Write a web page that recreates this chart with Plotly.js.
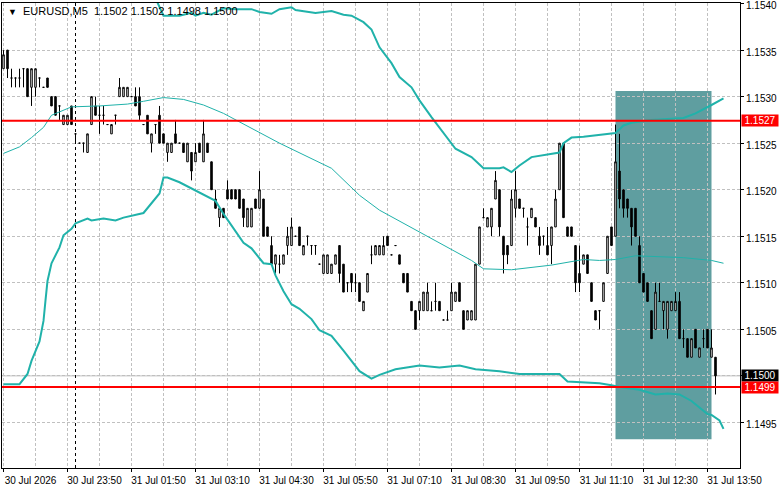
<!DOCTYPE html>
<html><head><meta charset="utf-8">
<script src="https://cdn.plot.ly/plotly-3.0.1.min.js"></script>
<style>html,body{margin:0;padding:0;background:#fff;} #chart{width:781px;height:489px;}</style>
</head><body><div id="chart"></div>
<script>
// ---- data (EURUSD M5 bars) ----
const open = [1.1533,1.1535,1.1532,1.1532,1.1532,1.1533,1.1533,1.1531,1.1531,1.1532,
1.1531,1.1532,1.1530,1.1530,1.1529,1.1527,1.1527,1.1529,1.1526,1.1525,
1.1525,1.1524,1.1527,1.1529,1.1528,1.1528,1.1527,1.1526,1.1528,1.1530,
1.1530,1.1530,1.1530,1.1530,1.1530,1.1527,1.1528,1.1525,1.1527,1.1528,
1.1526,1.1524,1.1524,1.1526,1.1525,1.1525,1.1523,1.1524,1.1523,1.1525,
1.1523,1.1525,1.1523,1.1519,1.1517,1.1518,1.1520,1.1520,1.1520,1.1520,
1.1519,1.1516,1.1516,1.1519,1.1518,1.1519,1.1516,1.1514,1.1512,1.1512,
1.1512,1.1514,1.1514,1.1515,1.1516,1.1513,1.1515,1.1514,1.1514,1.1512,
1.1511,1.1511,1.1511,1.1512,1.1514,1.1512,1.1510,1.1511,1.1510,1.1510,
1.1507,1.1509,1.1513,1.1513,1.1513,1.1513,1.1515,1.1513,1.1514,1.1513,
1.1511,1.1511,1.1508,1.1507,1.1507,1.1507,1.1507,1.1507,1.1508,1.1508,
1.1506,1.1506,1.1507,1.1508,1.1510,1.1507,1.1506,1.1506,1.1506,1.1512,
1.1517,1.1516,1.1516,1.1519,1.1520,1.1515,1.1514,1.1514,1.1518,1.1519,
1.1518,1.1516,1.1517,1.1517,1.1515,1.1515,1.1514,1.1514,1.1516,1.1520,
1.1525,1.1516,1.1516,1.1514,1.1511,1.1512,1.1513,1.1510,1.1507,1.1507,
1.1508,1.1511,1.1516,1.1515,1.1522,1.1520,1.1519,1.1518,1.1518,1.1514,
1.1511,1.1510,1.1507,1.1505,1.1508,1.1507,1.1505,1.1507,1.1507,1.1508,
1.1504,1.1504,1.1502,1.1505,1.1502,1.1504,1.1505,1.1502,1.1502];

const high = [1.1535,1.1535,1.1533,1.1532,1.1533,1.1533,1.1533,1.1533,1.1533,1.1532,
1.1531,1.1532,1.1530,1.1530,1.1529,1.1528,1.1528,1.1529,1.1526,1.1525,
1.1525,1.1526,1.1530,1.1530,1.1529,1.1529,1.1527,1.1527,1.1528,1.1532,
1.1531,1.1531,1.1530,1.1531,1.1531,1.1527,1.1528,1.1526,1.1527,1.1529,
1.1526,1.1525,1.1525,1.15275,1.1525,1.1525,1.1525,1.1524,1.1525,1.1525,
1.15275,1.1525,1.1523,1.1520,1.1518,1.1518,1.1521,1.1520,1.1520,1.1520,
1.1519,1.1518,1.1518,1.1519,1.1522,1.1519,1.1516,1.1515,1.1513,1.1513,
1.1513,1.1516,1.1517,1.1515,1.1516,1.1514,1.1515,1.1514,1.1514,1.1512,
1.1513,1.1513,1.1512,1.1513,1.1514,1.1512,1.1510,1.1511,1.1511,1.1510,
1.1508,1.1511,1.1514,1.1514,1.1514,1.1515,1.1515,1.1513,1.1514,1.1513,
1.1511,1.1511,1.1508,1.1507,1.1508,1.1509,1.1510,1.1508,1.1510,1.1508,
1.1506,1.1507,1.1510,1.1509,1.1510,1.1507,1.1507,1.1507,1.1512,1.1516,
1.1518,1.1517,1.1518,1.1522,1.1520,1.1515,1.1514,1.1520,1.1522,1.1519,
1.1518,1.1517,1.1518,1.1517,1.1516,1.1515,1.1516,1.1516,1.1520,1.1525,
1.1525,1.1516,1.1516,1.1514,1.1514,1.1513,1.1513,1.1510,1.1507,1.1507,
1.1510,1.1515,1.1516,1.1527,1.1526,1.1520,1.1519,1.1518,1.1518,1.1515,
1.1511,1.1510,1.1507,1.1510,1.1510,1.1508,1.1508,1.1508,1.1509,1.1509,
1.1505,1.1504,1.1504,1.1505,1.1503,1.1505,1.1505,1.1505,1.1502];

const low = [1.1533,1.1532,1.1531,1.1531,1.1531,1.1531,1.1530,1.1529,1.1530,1.1531,
1.1531,1.1531,1.1529,1.1528,1.15275,1.1527,1.1527,1.1527,1.1525,1.1525,
1.1524,1.1524,1.1527,1.1528,1.1526,1.1527,1.1527,1.1526,1.1527,1.1530,
1.1530,1.1530,1.1530,1.1529,1.15275,1.1527,1.1526,1.1524,1.1526,1.1525,
1.1525,1.1523,1.1524,1.1525,1.1525,1.1524,1.1523,1.1521,1.1523,1.1524,
1.1523,1.1524,1.1520,1.1518,1.1516,1.1517,1.1519,1.1519,1.1519,1.1518,
1.1516,1.1516,1.1516,1.1518,1.1518,1.1515,1.1515,1.1512,1.1511,1.1511,
1.1512,1.1513,1.1514,1.1515,1.1514,1.1513,1.1514,1.1513,1.1513,1.1512,
1.1511,1.1511,1.1511,1.1512,1.1510,1.1509,1.1509,1.1509,1.1509,1.1508,
1.1507,1.1509,1.1512,1.1513,1.1513,1.1513,1.1514,1.1513,1.1514,1.1512,
1.1510,1.1509,1.1507,1.1505,1.1506,1.1507,1.1507,1.1507,1.1507,1.1507,
1.1506,1.1506,1.1507,1.1508,1.1508,1.1505,1.1506,1.1506,1.1506,1.1512,
1.1517,1.1516,1.1515,1.1519,1.1515,1.1511,1.1512,1.1514,1.1517,1.1518,
1.1517,1.1514,1.1517,1.1516,1.1513,1.1514,1.1513,1.1512,1.1516,1.1520,
1.1517,1.1515,1.1515,1.1509,1.1509,1.1512,1.1511,1.1508,1.1506,1.1505,
1.1508,1.1511,1.1514,1.1515,1.1518,1.1517,1.1517,1.1514,1.1515,1.1510,
1.1509,1.1508,1.1504,1.1505,1.1508,1.1505,1.1504,1.1507,1.1507,1.1504,
1.1503,1.1502,1.1502,1.1503,1.1502,1.1503,1.1503,1.1502,1.1498];

const close = [1.15345,1.1533,1.1532,1.1532,1.1532,1.1533,1.1530,1.1533,1.1533,1.1532,
1.1531,1.1531,1.1529,1.1528,1.1529,1.1528,1.1528,1.1527,1.1526,1.1525,
1.1525,1.1526,1.1530,1.1528,1.1528,1.1528,1.1527,1.1527,1.1528,1.1531,
1.1531,1.1531,1.1530,1.1529,1.1528,1.1527,1.1526,1.1526,1.1527,1.1525,
1.1525,1.1525,1.1525,1.1525,1.1525,1.1524,1.1525,1.1522,1.1524,1.1524,
1.1526,1.1524,1.1520,1.1518,1.1518,1.1517,1.1519,1.1519,1.1519,1.1518,
1.1517,1.1518,1.1518,1.1518,1.1520,1.1515,1.1515,1.1512,1.1513,1.1512,
1.1513,1.1515,1.1516,1.1515,1.1514,1.1514,1.1515,1.1514,1.1514,1.1512,
1.1513,1.1513,1.1512,1.1513,1.1511,1.1509,1.1510,1.1510,1.1510,1.1508,
1.1508,1.1511,1.1513,1.1514,1.1514,1.1514,1.1514,1.1513,1.1514,1.1512,
1.1510,1.1509,1.1507,1.1505,1.1508,1.1509,1.1509,1.1507,1.1508,1.1507,
1.1506,1.1506,1.1509,1.1509,1.1508,1.1505,1.1507,1.1507,1.1512,1.1516,
1.1517,1.1517,1.1518,1.1521,1.1516,1.1513,1.1513,1.1519,1.1520,1.1518,
1.1518,1.1516,1.1518,1.1516,1.1514,1.1515,1.1513,1.1516,1.1519,1.1525,
1.1517,1.1515,1.1515,1.1510,1.1510,1.1513,1.1511,1.1508,1.1506,1.1507,
1.1510,1.1515,1.1514,1.1523,1.1519,1.1518,1.1518,1.1516,1.1515,1.1510,
1.1509,1.1508,1.1504,1.1509,1.1508,1.1508,1.1508,1.1508,1.1508,1.1504,
1.1504,1.1502,1.1504,1.1503,1.1503,1.1504,1.1503,1.1503,1.1500];

// Bollinger bands (bar index, price)
const upIdx = [37,40,44,47,48,50,52,55,58,62,64,67,69,72,73,78,82,85,87,90,92,94,97,99,102,104,107,111,113,117,120,124,125,127,129,132,139,140,142,145,150,153,154,155,157,162,170,173,177,180];
const upVal = [1.15415,1.15387,1.15387,1.1539,1.15387,1.1539,1.15388,1.15395,1.15394,1.15394,1.15391,1.15389,1.15394,1.15396,1.15393,1.1539,1.15392,1.15388,1.15387,1.1538,1.15372,1.15353,1.15336,1.15321,1.1531,1.15296,1.15278,1.15256,1.15244,1.15235,1.15223,1.15223,1.15224,1.15219,1.15226,1.15235,1.1524,1.1525,1.15256,1.15257,1.1526,1.15261,1.15265,1.15269,1.15272,1.15275,1.15277,1.15282,1.15291,1.15298];
const midIdx = [0,4,7,10,12,15,17,24,31,35,40,45,50,55,63,69,82,89,94,102,111,117,120,127,137,141,145,149,153,158,170,177,180];
const midVal = [1.15239,1.15246,1.15256,1.15267,1.1528,1.15285,1.15289,1.1529,1.15292,1.15295,1.15299,1.15297,1.15291,1.15282,1.15264,1.1525,1.15223,1.15194,1.15178,1.15159,1.15138,1.15124,1.15115,1.15114,1.15119,1.15122,1.15125,1.15124,1.15125,1.15129,1.15127,1.15124,1.15121];
const loIdx = [0,4,6,7,9,10,10.5,11,12,14,15,17,18,21,22,25,28,30,35,39,40,41,44,48,50,53,55,58,60,62,65,67,68,70,72,74,77,79,82,85,89,92,94,98,104,109,114,118,124,129,139,141,149,152,154,159,163,166,169,172,176,177,179,180];
const loVal = [1.14991,1.14991,1.15002,1.15016,1.15037,1.15059,1.15081,1.15102,1.15121,1.15138,1.15151,1.15158,1.15164,1.15169,1.15167,1.15169,1.15167,1.1517,1.15175,1.15196,1.15213,1.15213,1.15208,1.15199,1.15194,1.15188,1.15174,1.15156,1.15143,1.15137,1.15121,1.1512,1.15108,1.15091,1.15077,1.15072,1.15061,1.15049,1.15043,1.15027,1.15005,1.14997,1.15001,1.15007,1.15011,1.15009,1.15011,1.15007,1.15005,1.15002,1.15002,1.14994,1.14992,1.1499,1.14988,1.14985,1.1498,1.14981,1.1498,1.14973,1.14959,1.14958,1.14952,1.14943];

// axis labels
const tickIdx = [0,16,32,48,64,80,96,112,128,144,160,176];
const tickLabels = ['30 Jul 2026','30 Jul 23:50','31 Jul 01:50','31 Jul 03:10','31 Jul 04:30','31 Jul 05:50','31 Jul 07:10','31 Jul 08:30','31 Jul 09:50','31 Jul 11:10','31 Jul 12:30','31 Jul 13:50'];
const priceTicks = [1.1495,1.1500,1.1505,1.1510,1.1515,1.1520,1.1525,1.1530,1.1535,1.1540];

// objects on chart
const symbolLabel = 'EURUSD,M5';
const ohlcLabel = '1.1502 1.1502 1.1498 1.1500';
const levelUpper = 1.15274, levelUpperText = '1.1527';
const levelLower = 1.14988, levelLowerText = '1.1499';
const bidPrice = 1.1500, bidText = '1.1500';
const rectStart = 153, rectEnd = 177, rectTop = 1.15306, rectBottom = 1.14932;
const daySeparator = 18;

// ---- drawing ----
const bars = open.map((_, i) => i);
const bandColor = '#20B2AA';
const traces = [
  {type:'candlestick', x:bars, open:open, high:high, low:low, close:close,
   increasing:{line:{color:'#000000', width:1}, fillcolor:'#ffffff'},
   decreasing:{line:{color:'#000000', width:1}, fillcolor:'#000000'},
   whiskerwidth:0, hoverinfo:'skip', showlegend:false},
  {type:'scatter', mode:'lines', x:midIdx, y:midVal, line:{color:bandColor, width:1}, hoverinfo:'skip', showlegend:false},
  {type:'scatter', mode:'lines', x:upIdx, y:upVal, line:{color:bandColor, width:2}, hoverinfo:'skip', showlegend:false},
  {type:'scatter', mode:'lines', x:loIdx, y:loVal, line:{color:bandColor, width:2}, hoverinfo:'skip', showlegend:false}
];

const gridStyle = {gridcolor:'#c0c0c0', griddash:'3px,2px', gridwidth:1};
const tag = (y, text, bg) => ({xref:'paper', yref:'y', x:1, y:y, xanchor:'left', yanchor:'middle', xshift:1,
  showarrow:false, text:text, bgcolor:bg, font:{color:'#ffffff', size:10}, width:36, height:11, borderpad:0, align:'center'});

const layout = {
  width:781, height:489,
  margin:{l:2, r:41, t:3, b:21, pad:0},
  paper_bgcolor:'#ffffff', plot_bgcolor:'#ffffff',
  font:{family:'Liberation Sans, Arial, sans-serif', size:10, color:'#000000'},
  showlegend:false, boxgap:0.45, hovermode:false,
  xaxis:Object.assign({
    range:[-0.375, 184.125], tickmode:'array', tickvals:tickIdx, ticktext:tickLabels,
    ticks:'outside', ticklen:3, tickcolor:'#000000', tickangle:0, ticklabelshift:27,
    ticklabeloverflow:'allow',
    showline:true, linecolor:'#000000', linewidth:1, mirror:true,
    showgrid:true, zeroline:false, rangeslider:{visible:false}, fixedrange:true,
    minor:{dtick:8, tick0:0, showgrid:true, gridcolor:'#c0c0c0', griddash:'3px,2px', gridwidth:1, ticks:''}
  }, gridStyle),
  yaxis:Object.assign({
    side:'right', range:[1.14901, 1.154006], tickmode:'array', tickvals:priceTicks,
    // the 1.1500 axis label sits under the black bid tag, which shows the same text
    ticktext:priceTicks.map(v => Math.abs(v - bidPrice) < 1e-9 ? '' : v.toFixed(4)),
    ticks:'outside', ticklen:3, tickcolor:'#000000', ticklabeloverflow:'allow', ticklabelshift:2,
    showline:true, linecolor:'#000000', linewidth:1, mirror:true,
    showgrid:true, zeroline:false, fixedrange:true
  }, gridStyle),
  shapes:[
    {type:'rect', xref:'x', yref:'y', x0:rectStart, x1:rectEnd, y0:rectBottom, y1:rectTop, fillcolor:'#5F9EA0', line:{width:0}, layer:'below'},
    {type:'line', xref:'paper', x0:0, x1:1, yref:'y', y0:bidPrice, y1:bidPrice, line:{color:'#c0c0c0', width:1}, layer:'below'},
    {type:'line', xref:'x', x0:daySeparator, x1:daySeparator, yref:'paper', y0:0, y1:1, line:{color:'#000000', width:1, dash:'3px,3px'}, layer:'below'},
    {type:'line', xref:'paper', x0:0, x1:1, yref:'y', y0:levelUpper, y1:levelUpper, line:{color:'#ff0000', width:2}, layer:'above'},
    {type:'line', xref:'paper', x0:0, x1:1, yref:'y', y0:levelLower, y1:levelLower, line:{color:'#ff0000', width:2}, layer:'above'}
  ],
  annotations:[
    {xref:'paper', yref:'paper', x:0, y:1, xanchor:'left', yanchor:'top', xshift:4, yshift:0, showarrow:false,
     text:'<span style="font-size:9px">\u25BC</span>  ' + symbolLabel + '  ' + ohlcLabel, font:{size:11, color:'#000000'}},
    tag(levelUpper, levelUpperText, '#ff0000'),
    tag(bidPrice, bidText, '#000000'),
    tag(levelLower, levelLowerText, '#ff0000')
  ]
};

Plotly.newPlot('chart', traces, layout, {staticPlot:true, displayModeBar:false});
</script>
</body></html>
